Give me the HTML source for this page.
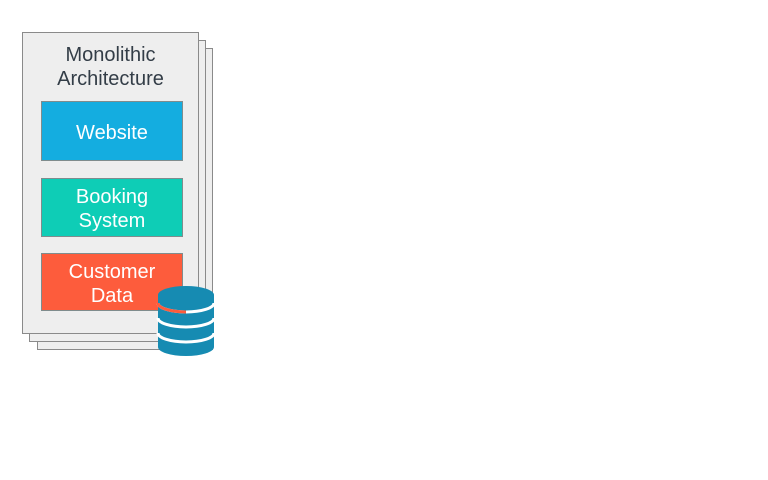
<!DOCTYPE html>
<html><head><meta charset="utf-8"><style>
html,body{margin:0;padding:0;width:768px;height:480px;background:#fff;overflow:hidden;font-family:"Liberation Sans","DejaVu Sans",sans-serif}
.pg{position:absolute;background:#eeeeee;border:1.5px solid #8a8a8a;box-sizing:border-box}
.bx{position:absolute;left:41px;width:142px;box-sizing:border-box;border:1px solid #7f8c8d;color:#fff;font-size:20px;text-align:center;display:flex;align-items:center;justify-content:center;line-height:24px;padding-top:3px}
</style></head><body>
<div class="pg" style="left:37px;top:48px;width:176px;height:302px"></div>
<div class="pg" style="left:29px;top:40px;width:177px;height:302px"></div>
<div class="pg" style="left:22px;top:32px;width:177px;height:302px"></div>
<div style="position:absolute;left:22px;top:43px;width:177px;text-align:center;color:#333d47;font-size:20px;line-height:24px">Monolithic<br>Architecture</div>
<div class="bx" style="top:101px;height:60px;background:#14ade0">Website</div>
<div class="bx" style="top:178px;height:59px;background:#0ecdb6">Booking<br>System</div>
<div class="bx" style="top:253px;height:58px;background:#fd5c3c">Customer<br>Data</div>
<svg style="position:absolute;left:0;top:0" width="768" height="480">
<path d="M158,295 A28,9 0 0 1 214,295 L214,347 A28,9 0 0 1 158,347 Z" fill="#168bb2"/>
<path d="M158,303 A28,9 0 0 0 214,303" fill="none" stroke="#fff" stroke-width="3"/>
<path d="M158,303 A28,9 0 0 0 186,312" fill="none" stroke="#fd5c3c" stroke-width="3"/>
<path d="M158,318 A28,9 0 0 0 214,318" fill="none" stroke="#fff" stroke-width="3"/>
<path d="M158,333 A28,9 0 0 0 214,333" fill="none" stroke="#fff" stroke-width="3"/>
</svg>
</body></html>
